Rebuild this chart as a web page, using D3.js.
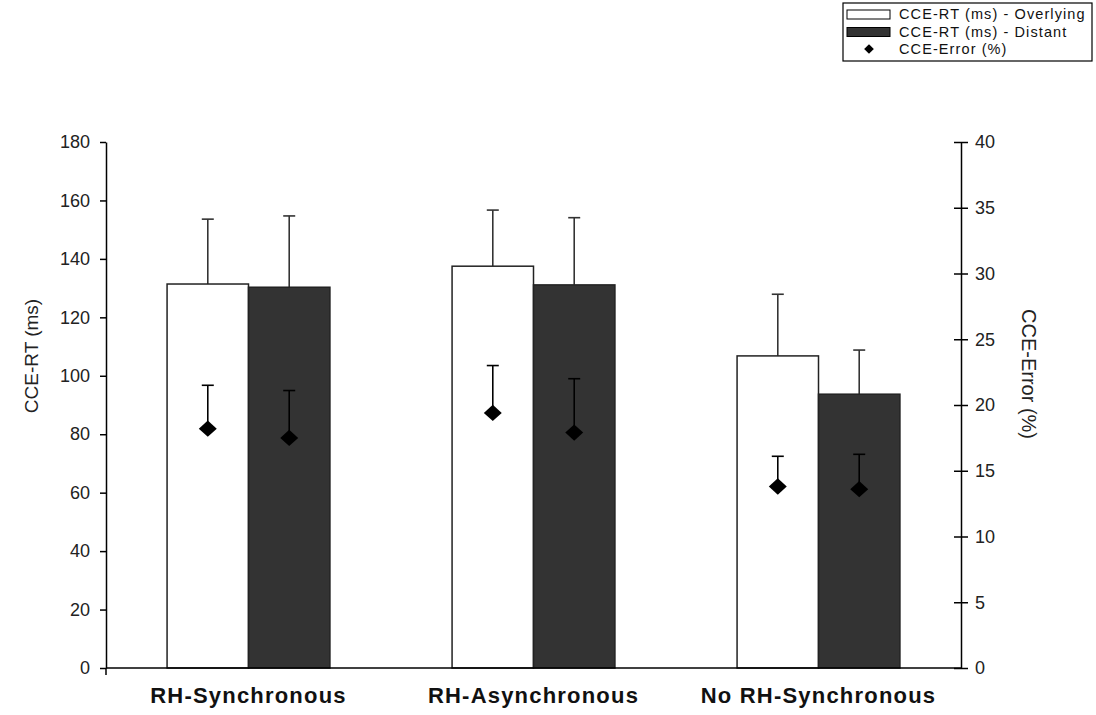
<!DOCTYPE html>
<html>
<head>
<meta charset="utf-8">
<script src="https://cdn.jsdelivr.net/npm/d3@7"></script>
<style>
  body { margin: 0; background: #fff; }
  svg { display: block; font-family: "Liberation Sans", Arial, sans-serif; }
</style>
</head>
<body>
<svg id="chart" width="1096" height="715"></svg>
<script>
// values
const categories = ["RH-Synchronous", "RH-Asynchronous", "No RH-Synchronous"];
const seriesNames = ["CCE-RT (ms) - Overlying", "CCE-RT (ms) - Distant"];
const rtOverlying = [131.4, 137.5, 106.8];
const rtOverlyingErr = [22.2, 19.2, 21.1];
const rtDistant = [130.3, 131.1, 93.7];
const rtDistantErr = [24.4, 23.0, 15.1];
const errOverlying = [18.2, 19.4, 13.8];
const errOverlyingSE = [3.3, 3.6, 2.3];
const errDistant = [17.5, 17.9, 13.6];
const errDistantSE = [3.6, 4.1, 2.65];
const leftTicks = [0, 20, 40, 60, 80, 100, 120, 140, 160, 180];
const rightTicks = [0, 5, 10, 15, 20, 25, 30, 35, 40];

const svg = d3.select("#chart");
const margin = { left: 106, right: 1096 - 961, top: 142, bottom: 715 - 668 };
const plotW = 1096 - margin.left - margin.right;
const plotH = 715 - margin.top - margin.bottom;

const x = d3.scaleBand().domain(categories).range([margin.left, margin.left + plotW]);
const bw = x.bandwidth();
const barW = bw / 3.5; // gap width 150%
const xs = d3.scaleBand().domain(seriesNames)
  .range([(bw - 2 * barW) / 2, (bw + 2 * barW) / 2]);

const yL = d3.scaleLinear().domain([0, 180]).range([margin.top + plotH, margin.top]);
const yR = d3.scaleLinear().domain([0, 40]).range([margin.top + plotH, margin.top]);

const rows = categories.map((c, i) => ({
  cat: c,
  bars: [
    { s: seriesNames[0], v: rtOverlying[i], e: rtOverlyingErr[i], fill: "#ffffff", p: errOverlying[i], pe: errOverlyingSE[i] },
    { s: seriesNames[1], v: rtDistant[i], e: rtDistantErr[i], fill: "#333333", p: errDistant[i], pe: errDistantSE[i] }
  ]
}));
const flat = rows.flatMap(r => r.bars.map(b => ({ ...b, cat: r.cat })));
const cx = d => x(d.cat) + xs(d.s) + xs.bandwidth() / 2;

// RT error bars (plus only), drawn behind bars
const eg = svg.append("g").attr("stroke", "#333").attr("stroke-width", 1.6);
eg.selectAll("line.v").data(flat).join("line")
  .attr("x1", cx).attr("x2", cx)
  .attr("y1", d => yL(d.v)).attr("y2", d => yL(d.v + d.e));
eg.selectAll("line.c").data(flat).join("line")
  .attr("x1", d => cx(d) - 6).attr("x2", d => cx(d) + 6)
  .attr("y1", d => yL(d.v + d.e)).attr("y2", d => yL(d.v + d.e));

// bars
svg.append("g").selectAll("rect").data(flat).join("rect")
  .attr("x", d => x(d.cat) + xs(d.s))
  .attr("width", xs.bandwidth())
  .attr("y", d => yL(d.v))
  .attr("height", d => yL(0) - yL(d.v))
  .attr("fill", d => d.fill)
  .attr("stroke", "#222")
  .attr("stroke-width", 1.5);

// error % error bars and diamonds
const pg = svg.append("g").attr("stroke", "#000").attr("stroke-width", 1.6);
pg.selectAll("line.v").data(flat).join("line")
  .attr("x1", cx).attr("x2", cx)
  .attr("y1", d => yR(d.p)).attr("y2", d => yR(d.p + d.pe));
pg.selectAll("line.c").data(flat).join("line")
  .attr("x1", d => cx(d) - 6).attr("x2", d => cx(d) + 6)
  .attr("y1", d => yR(d.p + d.pe)).attr("y2", d => yR(d.p + d.pe));
svg.append("g").selectAll("path").data(flat).join("path")
  .attr("d", d3.symbol(d3.symbolDiamond2, 170))
  .attr("transform", d => `translate(${cx(d)},${yR(d.p)}) scale(1.1,1)`)
  .attr("fill", "#000");

// axes
const axL = svg.append("g").attr("transform", `translate(${margin.left},0)`)
  .call(d3.axisLeft(yL).tickValues(leftTicks).tickSize(6).tickSizeOuter(0).tickPadding(10));
const axR = svg.append("g").attr("transform", `translate(${margin.left + plotW},0)`)
  .call(d3.axisRight(yR).tickValues(rightTicks).tickSize(7).tickSizeOuter(0).tickPadding(7));
axR.selectAll(".tick line").attr("x1", -7);
[axL, axR].forEach(a => {
  a.selectAll("path, line").attr("stroke", "#000").attr("stroke-width", 1.5);
  a.selectAll("text").attr("font-size", 18).attr("fill", "#222")
    .attr("font-family", "Liberation Sans, Arial, sans-serif");
});

svg.append("line")
  .attr("x1", margin.left).attr("x2", margin.left + plotW)
  .attr("y1", yL(0)).attr("y2", yL(0))
  .attr("stroke", "#000").attr("stroke-width", 1.5);
svg.append("line")
  .attr("x1", margin.left).attr("x2", margin.left)
  .attr("y1", yL(0)).attr("y2", yL(0) + 7)
  .attr("stroke", "#000").attr("stroke-width", 1.5);

// category labels
svg.append("g").selectAll("text").data(categories).join("text")
  .attr("x", d => x(d) + bw / 2)
  .attr("y", 703)
  .attr("text-anchor", "middle")
  .attr("font-size", 22)
  .attr("font-weight", "bold")
  .attr("letter-spacing", 1.2)
  .attr("fill", "#111")
  .text(d => d);

// axis titles
svg.append("text")
  .attr("transform", "translate(38,356) rotate(-90)")
  .attr("text-anchor", "middle")
  .attr("font-size", 19)
  .attr("fill", "#222")
  .text("CCE-RT (ms)");
svg.append("text")
  .attr("transform", "translate(1022,374) rotate(90)")
  .attr("text-anchor", "middle")
  .attr("font-size", 20)
  .attr("fill", "#222")
  .text("CCE-Error (%)");

// legend
const lg = svg.append("g").attr("transform", "translate(843,3)");
lg.append("rect").attr("width", 249).attr("height", 58)
  .attr("fill", "#fff").attr("stroke", "#000").attr("stroke-width", 1.2);
const legendItems = [
  { label: seriesNames[0], type: "rect", fill: "#fff" },
  { label: seriesNames[1], type: "rect", fill: "#333" },
  { label: "CCE-Error (%)", type: "diamond" }
];
const li = lg.selectAll("g").data(legendItems).join("g")
  .attr("transform", (d, i) => `translate(0,${11 + i * 17.5})`);
li.filter(d => d.type === "rect").append("rect")
  .attr("x", 4).attr("y", -4).attr("width", 43).attr("height", 9)
  .attr("fill", d => d.fill).attr("stroke", "#000").attr("stroke-width", 1);
li.filter(d => d.type === "diamond").append("path")
  .attr("d", d3.symbol(d3.symbolDiamond2, 60))
  .attr("transform", "translate(26,0)")
  .attr("fill", "#000");
li.append("text")
  .attr("x", 56).attr("y", 5)
  .attr("font-size", 14.5)
  .attr("letter-spacing", 1.1)
  .attr("fill", "#111")
  .text(d => d.label);
</script>
</body>
</html>
